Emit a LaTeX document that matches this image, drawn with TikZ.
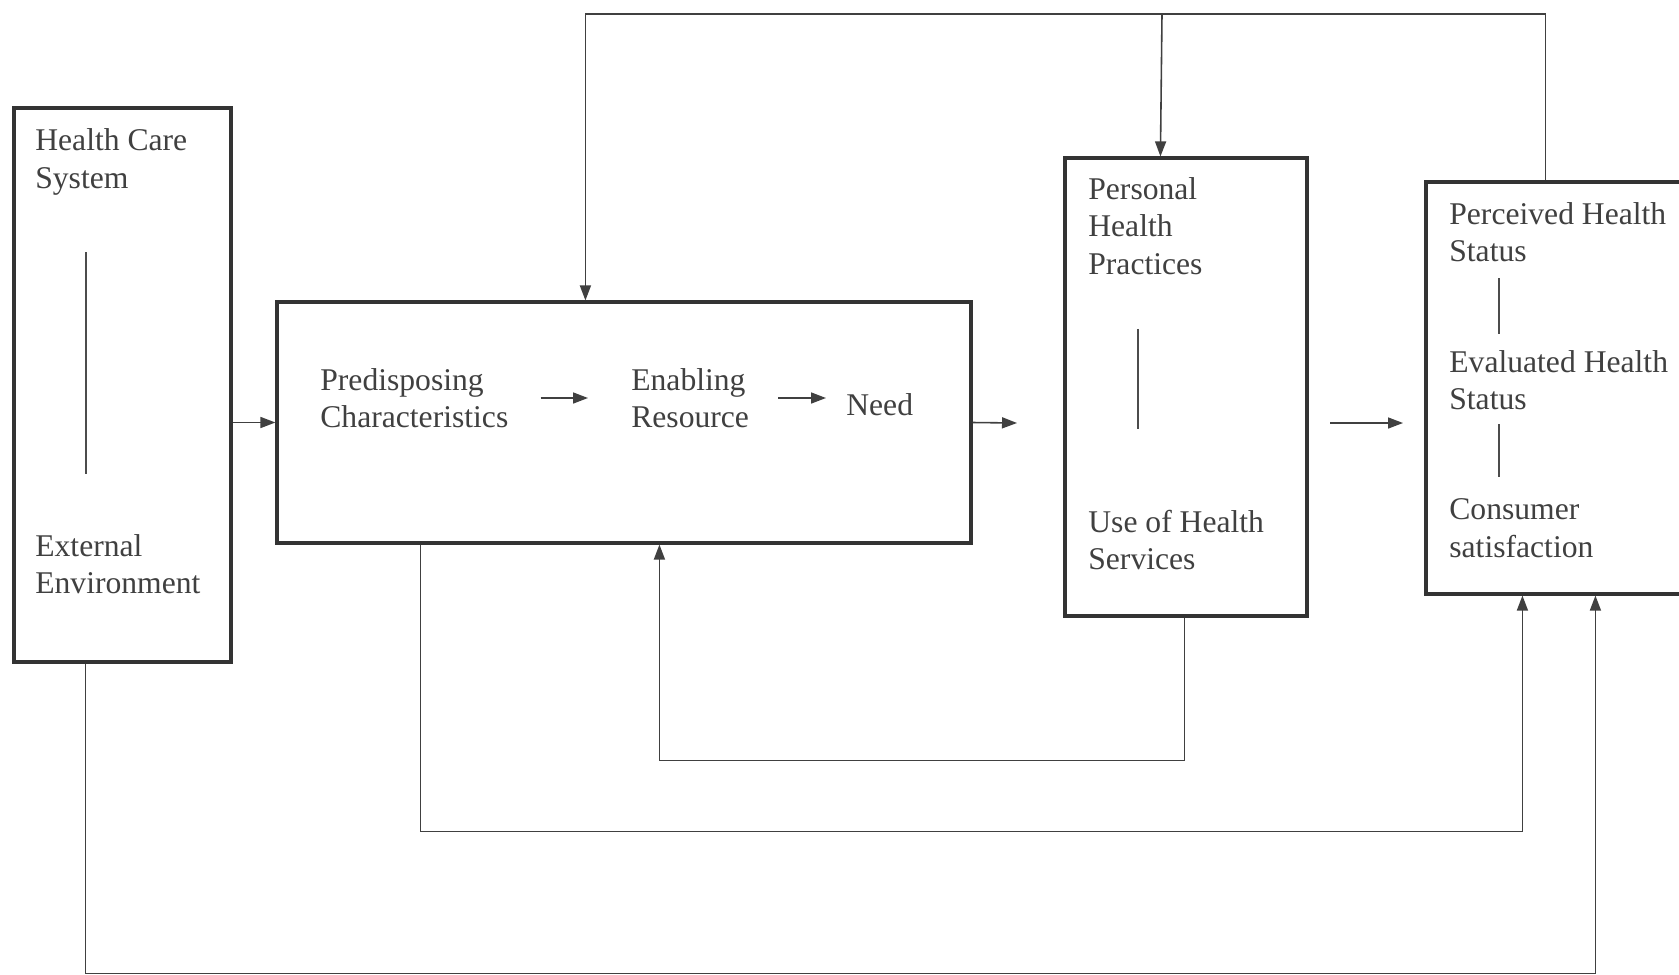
\documentclass[tikz,border=0pt]{standalone}
\usepackage{fontspec}
\setmainfont{Liberation Serif}
\usetikzlibrary{arrows.meta,fit}
\tikzset{
  box/.style={draw=black!80, line width=1.8pt, inner sep=0pt},
  txt/.style={anchor=west, inner sep=0pt, align=left, text=black!75,
    font=\fontsize{18}{21.3}\selectfont},
  link/.style={draw=black!75, line width=0.9pt},
  arr/.style={link, -{Triangle[length=0.3cm,width=0.22cm]}},
  divider/.style={draw=black!70, line width=0.9pt},
}
\begin{document}
\begin{tikzpicture}[x=0.02cm, y=-0.02cm]
  \clip (0,0) rectangle (1679,974);
  \fill[white] (0,0) rectangle (1679,974);
  % boxes
  \node[box, fit={(14,108) (231,662)}] (hcs) {};
  \node[box, fit={(277,302) (971,543)}] (main) {};
  \node[box, fit={(1065,158) (1307,616)}] (phs) {};
  \node[box, fit={(1426,182) (1700,594)}] (hs) {};
  % texts
  \node[txt] (hcsT) at (35,162) {Health Care\\System};
  \node[txt] (hcsB) at (35,564) {External\\Environment};
  \node[txt] (pred) at (320,398) {Predisposing\\Characteristics};
  \node[txt] (enab) at (631,398) {Enabling\\Resource};
  \node[txt] (need) at (846,405) {Need};
  \node[txt] (phsT) at (1088,226) {Personal\\Health\\Practices};
  \node[txt] (phsB) at (1088,540) {Use of Health\\Services};
  \node[txt] (hsT) at (1449,232) {Perceived Health\\Status};
  \node[txt] (hsM) at (1449,380) {Evaluated Health\\Status};
  \node[txt] (hsB) at (1449,528) {Consumer\\satisfaction};
  % dividers inside the boxes
  \draw[divider] ([shift={(51,57)}]hcsT.south west) -- ([shift={(51,-60)}]hcsB.north west);
  \draw[divider] ([shift={(50,54)}]phsT.south west) -- ([shift={(50,-81)}]phsB.north west);
  \draw[divider] ([shift={(50,16)}]hsT.south west) -- ([shift={(50,-16)}]hsM.north west);
  \draw[divider] ([shift={(50,14)}]hsM.south west) -- ([shift={(50,-21)}]hsB.north west);
  % forward arrows
  \draw[arr, shorten <=0.64cm, shorten >=0.86cm] (pred.east) -- (enab.west);
  \draw[arr, shorten <=0.58cm, shorten >=0.4cm] (enab.east) -- (enab.east -| need.west);
  \draw[arr] (hcs.east |- main.west) -- (main.west);
  \coordinate (mainOut) at (1017,423);
  \draw[arr] (main.east) -- (mainOut);
  \coordinate (hsInA) at (1330,423);
  \coordinate (hsInB) at (1403,423);
  \draw[arr] (hsInA) -- (hsInB);
  % feedback on top
  \coordinate (topbus) at (1162,14);
  \draw[link] ([shift={(121,0)}]hs.north west) |- (topbus);
  \draw[arr] (topbus) -| ([shift={(310,0)}]main.north west);
  \draw[arr] (topbus) -- ([shift={(97,0)}]phs.north west);
  % loops below
  \draw[arr] ([shift={(121,0)}]phs.south west) -- ++(0,143) -| ([shift={(384,0)}]main.south west);
  \draw[arr] ([shift={(145,0)}]main.south west) -- ++(0,287) -| ([shift={(98,0)}]hs.south west);
  \draw[arr] ([shift={(73,0)}]hcs.south west) -- ++(0,310) -| ([shift={(171,0)}]hs.south west);
\end{tikzpicture}
\end{document}
